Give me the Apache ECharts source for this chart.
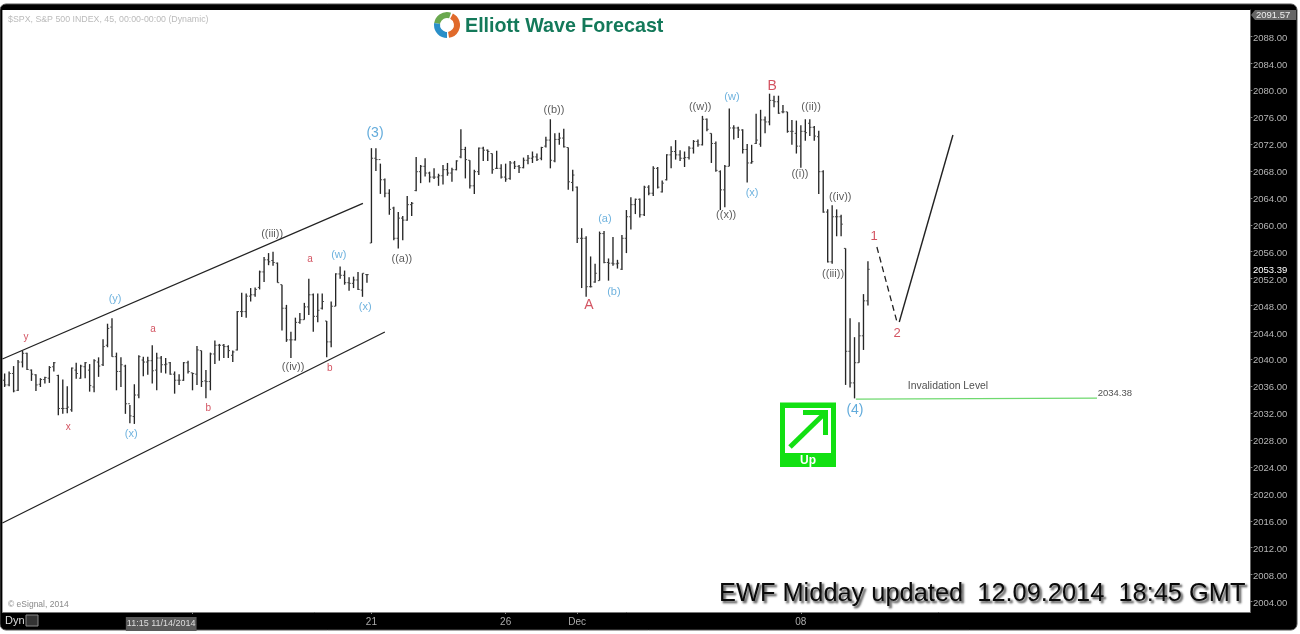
<!DOCTYPE html>
<html><head><meta charset="utf-8">
<style>html,body{margin:0;padding:0;background:#fff;overflow:hidden}#c{width:1300px;height:634px}</style>
<script src="https://cdn.jsdelivr.net/npm/echarts@6/dist/echarts.min.js"></script>
</head><body><div id="c"></div>
<script>
const opens=[2036.9,2036.2,2037.9,2035.4,2039.6,2040.9,2038.4,2037.7,2036.3,2037.0,2037.2,2038.9,2037.6,2032.7,2032.7,2032.5,2038.4,2037.2,2038.9,2038.4,2035.9,2039.6,2039.2,2042.1,2044.8,2040.4,2038.2,2039.0,2033.4,2031.5,2034.7,2039.9,2039.6,2039.8,2038.4,2040.2,2039.2,2039.5,2037.8,2036.9,2036.9,2039.5,2038.0,2037.8,2041.3,2036.8,2036.7,2040.8,2042.1,2042.1,2041.9,2040.6,2041.4,2047.1,2047.1,2049.4,2049.6,2050.7,2053.0,2054.8,2054.7,2054.3,2051.1,2047.6,2042.9,2042.9,2045.5,2045.9,2047.8,2049.6,2046.4,2047.6,2045.7,2042.6,2047.9,2052.7,2052.5,2051.4,2051.3,2051.8,2050.3,2052.6,
2057.3,2069.9,2069.7,2066.7,2064.7,2062.5,2058.0,2061.0,2060.7,2063.0,2065.1,2067.9,2068.7,2067.7,2067.1,2067.1,2067.3,2068.2,2067.7,2068.2,2070.1,2071.2,2069.6,2065.8,2067.9,2071.4,2071.1,2070.6,2068.4,2068.4,2067.1,2066.9,2069.2,2068.7,2068.5,2069.6,2069.9,2070.1,2069.9,2071.7,2072.6,2069.5,2072.7,2072.9,2071.5,2066.3,2065.6,2058.0,2058.0,2050.8,2051.5,2051.7,2058.7,2054.4,2054.3,2054.2,2053.4,2058.0,2061.2,2063.0,2063.8,2061.5,2065.6,2064.7,2068.4,
2064.9,2066.7,2070.4,2070.9,2070.4,2069.9,2070.0,2071.4,2072.4,2071.9,2075.7,2073.6,2072.1,2067.9,2065.2,2068.7,2074.4,2074.4,2074.1,2071.2,2069.2,2072.1,2072.0,2075.6,2075.3,2078.5,2078.3,2076.8,2076.8,2073.9,2073.6,2071.7,2073.9,2075.1,2074.5,2073.1,2067.9,2061.9,2054.5,2061.2,2061.2,
2056.5,2041.2,2036.5,2039.5,2043.5,2048.7];
const highs=[2037.9,2038.2,2039.0,2039.9,2041.3,2041.0,2038.5,2037.8,2037.2,2037.4,2039.0,2039.6,2037.7,2037.0,2036.0,2038.8,2039.5,2039.2,2039.6,2039.3,2040.0,2040.3,2043.0,2045.3,2046.1,2041.0,2040.3,2039.2,2033.2,2036.3,2040.6,2040.4,2040.4,2042.1,2041.0,2040.5,2040.2,2039.6,2038.2,2037.8,2039.6,2039.8,2038.0,2042.0,2041.3,2038.4,2041.0,2042.8,2042.3,2042.3,2042.1,2041.3,2047.2,2049.9,2049.8,2050.6,2050.7,2053.2,2055.2,2055.8,2056.0,2054.4,2051.1,2048.1,2044.1,2046.2,2046.9,2048.4,2052.0,2049.8,2049.8,2049.8,2045.7,2048.6,2052.8,2053.8,2053.2,2052.2,2052.3,2053.0,2052.8,2052.7,
2071.4,2071.4,2069.1,2066.9,2065.3,2062.7,2061.9,2061.3,2064.3,2063.4,2070.1,2068.9,2069.9,2067.9,2068.4,2067.6,2068.9,2069.2,2068.5,2069.6,2074.2,2071.6,2069.6,2068.2,2071.5,2071.6,2071.2,2070.6,2071.0,2069.0,2069.1,2069.5,2069.5,2068.9,2070.0,2070.4,2070.9,2070.6,2071.6,2073.1,2075.7,2073.6,2073.7,2074.3,2071.5,2068.2,2065.7,2059.5,2058.3,2055.3,2054.2,2059.0,2059.1,2055.0,2058.2,2054.8,2058.5,2062.2,2064.1,2063.9,2063.9,2065.8,2065.9,2068.7,2068.6,
2066.6,2070.5,2071.7,2072.6,2071.1,2070.9,2071.7,2072.6,2072.7,2076.2,2075.8,2073.6,2072.4,2068.1,2068.9,2077.3,2074.8,2074.6,2074.2,2072.0,2071.9,2076.5,2077.1,2076.1,2079.5,2079.2,2079.2,2077.8,2076.8,2075.6,2075.5,2074.8,2075.7,2075.7,2074.7,2074.0,2068.1,2062.3,2062.9,2062.3,2061.5,
2056.5,2046.1,2043.3,2045.5,2049.7,2054.6];
const lows=[2035.9,2036.0,2035.1,2035.3,2038.8,2038.4,2036.8,2035.3,2035.9,2036.4,2036.5,2038.2,2031.7,2031.9,2032.0,2032.2,2037.1,2037.1,2037.2,2035.2,2035.1,2037.4,2039.0,2041.8,2040.4,2035.4,2035.9,2031.9,2030.5,2030.4,2034.2,2037.5,2037.7,2036.4,2035.4,2038.0,2037.9,2037.7,2034.9,2036.2,2036.8,2037.9,2035.4,2036.2,2035.9,2034.2,2035.4,2039.3,2039.8,2040.2,2040.2,2039.6,2041.3,2046.3,2046.2,2048.6,2049.3,2050.4,2051.5,2054.0,2053.9,2051.4,2044.3,2042.6,2040.2,2042.8,2045.3,2045.9,2046.6,2044.1,2045.5,2047.4,2040.3,2041.8,2047.9,2052.0,2051.1,2050.2,2050.6,2050.3,2049.3,2051.4,
2057.3,2068.0,2064.6,2064.1,2061.5,2057.7,2056.5,2057.7,2060.6,2061.3,2065.0,2066.2,2067.2,2066.3,2066.8,2065.8,2066.0,2067.3,2066.4,2068.1,2069.9,2066.9,2065.4,2064.6,2067.4,2069.5,2069.5,2067.6,2068.3,2066.9,2066.4,2066.7,2068.3,2067.7,2068.4,2069.0,2069.2,2069.5,2069.6,2071.5,2068.4,2069.3,2071.9,2071.5,2065.2,2065.0,2057.3,2050.6,2049.3,2050.7,2051.4,2051.7,2054.3,2051.7,2053.9,2053.5,2053.3,2055.8,2059.3,2061.6,2061.1,2061.3,2064.4,2064.3,2065.4,
2064.8,2066.6,2068.4,2069.7,2069.5,2068.6,2069.7,2070.6,2071.6,2071.8,2073.9,2069.2,2067.9,2062.2,2062.6,2068.7,2072.7,2072.9,2070.6,2066.3,2069.1,2072.0,2071.6,2073.6,2074.8,2077.5,2076.5,2076.6,2073.7,2071.9,2070.6,2068.5,2072.5,2073.2,2072.5,2064.6,2061.8,2054.4,2054.2,2058.3,2058.3,
2036.2,2035.8,2034.2,2039.5,2041.4,2048.0];
const closes=[2036.2,2037.9,2035.3,2039.6,2040.9,2038.5,2037.8,2036.2,2037.0,2037.3,2038.8,2039.5,2032.7,2032.7,2032.9,2038.7,2037.9,2039.0,2039.5,2036.1,2039.8,2039.0,2041.9,2044.6,2040.4,2038.2,2039.2,2033.4,2031.6,2034.7,2040.4,2039.6,2039.8,2038.3,2040.2,2039.2,2039.3,2037.8,2036.9,2036.9,2039.5,2038.2,2037.9,2041.4,2036.7,2036.7,2040.8,2042.1,2042.1,2041.9,2041.3,2041.1,2047.1,2047.1,2049.4,2049.6,2050.4,2053.0,2054.8,2054.5,2054.4,2051.4,2047.6,2042.9,2042.9,2045.5,2045.9,2047.8,2049.6,2046.4,2047.3,2048.6,2042.6,2047.9,2052.7,2052.5,2051.4,2051.3,2051.8,2050.4,2052.8,2052.6,
2069.9,2069.7,2066.7,2064.7,2062.3,2058.0,2061.0,2060.7,2063.0,2063.2,2067.9,2068.7,2067.7,2067.1,2067.1,2067.3,2068.2,2067.7,2068.2,2069.5,2071.2,2069.7,2065.8,2067.9,2071.4,2071.1,2070.9,2068.2,2068.4,2067.1,2066.8,2069.2,2068.7,2068.5,2069.6,2069.9,2070.1,2069.7,2071.5,2072.6,2069.6,2072.7,2072.9,2071.6,2066.4,2067.4,2058.0,2058.0,2050.8,2050.8,2052.8,2058.7,2054.4,2054.3,2054.2,2054.3,2058.0,2061.2,2063.0,2063.8,2061.5,2065.6,2064.7,2068.4,2065.6,
2066.2,2070.4,2070.9,2070.4,2069.9,2070.0,2071.4,2072.4,2071.9,2075.7,2074.2,2072.1,2068.1,2065.2,2068.7,2074.4,2074.4,2074.1,2071.2,2069.2,2069.4,2072.6,2075.6,2075.3,2078.5,2078.3,2076.6,2076.8,2073.9,2073.9,2071.7,2073.9,2073.7,2074.5,2073.2,2067.9,2061.9,2054.5,2061.2,2061.2,2060.1,
2041.2,2036.5,2039.5,2043.5,2048.7,2053.39];

const priceTicks=[2004,2008,2012,2016,2020,2024,2028,2032,2036,2040,2044,2048,2052,2053.39,2056,2060,2064,2068,2072,2076,2080,2084,2088];
const lastPrice=2053.39;
const topPrice='2091.57';
const dateTickBars=[42,82,112,128,178];
const dateLabelBars=[35,82,112,128,178];
const dateLabels=['11:15 11/14/2014','21','26','Dec','08'];

const channelUpper=[[-0.5,2040.05],[80.1,2063.2]];
const channelLower=[[-0.5,2015.67],[85.0,2044.07]];
const forecastDashed=[[195.0,2056.7],[199.5,2045.55]];
const forecastSolid=[[200.0,2045.55],[212.0,2073.35]];
const invalidation=[[190.3,2034.1],[244.2,2034.25]];

const blueSmall=[[24.7,2049.0,'(y)'],[28.3,2028.9,'(x)'],[74.7,2055.5,'(w)'],[80.6,2047.8,'(x)'],[134.2,2060.9,'(a)'],[136.2,2050.0,'(b)'],[162.6,2079.0,'(w)'],[167.1,2064.7,'(x)']];
const blueLarge=[[82.8,2073.6,'(3)'],[190.1,2032.5,'(4)']];
const redSmall=[[4.8,2043.3,'y'],[14.2,2029.9,'x'],[33.2,2044.5,'a'],[45.5,2032.8,'b'],[68.3,2054.9,'a'],[72.7,2038.7,'b']];
const redMid=[[194.4,2058.3,'1'],[199.5,2043.8,'2']];
const redLarge=[[130.6,2048.1,'A'],[171.6,2080.6,'B']];
const darkLabels=[[59.8,2058.6,'((iii))'],[64.5,2038.9,'((iv))'],[88.8,2054.9,'((a))'],[122.8,2077.1,'((b))'],[155.5,2077.5,'((w))'],[180.3,2077.5,'((ii))'],[177.8,2067.6,'((i))'],[186.8,2064.1,'((iv))'],[185.2,2052.7,'((iii))'],[161.3,2061.5,'((x))']];
const notes=[[210.9,2036.0,'Invalidation Level']];
const lowNote=[[248.2,2035.0,'2034.38']];

const bars=opens.map((o,i)=>[i,o,highs[i],lows[i],closes[i]]);
const FONT='"Liberation Sans",Arial,sans-serif';

function labelSeries(data,color,size,weight){
  return {type:'scatter',data:data,symbolSize:0,silent:true,z:6,
    itemStyle:{color:'transparent'},
    label:{show:true,position:'inside',formatter:p=>p.data[2],color:color,fontSize:size,fontFamily:FONT,fontWeight:weight||'normal'}};
}
function lineSeries(data,color,width,type){
  return {type:'line',data:data,symbol:'none',silent:true,z:5,clip:true,
    lineStyle:{color:color,width:width,type:type||'solid'}};
}

const chart=echarts.init(document.getElementById('c'),null,{renderer:'canvas'});
chart.setOption({
  animation:false,
  backgroundColor:'#fff',
  tooltip:{show:false},
  grid:{left:2.4,right:49.6,top:10,bottom:22,show:true,backgroundColor:'#fff',borderWidth:0,z:2},
  xAxis:{type:'value',min:-0.5,max:278.5,position:'bottom',splitLine:{show:false},z:4,
    axisLine:{show:true,onZero:false,lineStyle:{color:'#777',width:1}},
    axisTick:{show:true,length:2,inside:false,customValues:dateTickBars,lineStyle:{color:'#888'}},
    axisLabel:{show:true,customValues:dateLabelBars,margin:5,color:'#aaa',fontSize:10,fontFamily:FONT,
      formatter:v=>{const i=dateLabelBars.indexOf(v);return i===0?'{b|'+dateLabels[0]+'}':(i>0?dateLabels[i]:'');},
      rich:{b:{backgroundColor:'#5a5a5a',color:'#ddd',fontSize:9,fontFamily:FONT,padding:[2,1,3,1]}}}},
  yAxis:{type:'value',position:'right',min:2002.44,max:2091.94,splitLine:{show:false},z:4,
    axisLine:{show:true,onZero:false,lineStyle:{color:'#666',width:1}},
    axisTick:{show:true,length:2,customValues:priceTicks.filter(v=>v!==lastPrice),lineStyle:{color:'#888'}},
    axisLabel:{show:true,customValues:priceTicks,margin:2.5,color:'#b5b5b5',fontSize:9.5,fontFamily:FONT,padding:[3,0,0,0],
      formatter:v=>v===lastPrice?'{l|'+v.toFixed(2)+'}':v.toFixed(2),
      rich:{l:{color:'#fff',fontSize:9.5,fontFamily:FONT}}}},
  series:[
    {type:'custom',data:bars,clip:true,z:3,silent:true,encode:{x:0,y:[1,2,3,4]},
      renderItem:function(params,api){
        const i=api.value(0);
        const o=api.coord([i,api.value(1)]),h=api.coord([i,api.value(2)]),
              l=api.coord([i,api.value(3)]),c=api.coord([i,api.value(4)]);
        const x=h[0];
        return {type:'group',children:[
          {type:'line',shape:{x1:x,y1:h[1],x2:x,y2:l[1]},style:{stroke:'#262626',lineWidth:1.35,fill:null}},
          {type:'line',shape:{x1:x-1.7,y1:o[1],x2:x,y2:o[1]},style:{stroke:'#444',lineWidth:1,fill:null}},
          {type:'line',shape:{x1:x,y1:c[1],x2:x+1.7,y2:c[1]},style:{stroke:'#444',lineWidth:1,fill:null}}
        ]};
      }},
    lineSeries(channelUpper,'#222',1.3),
    lineSeries(channelLower,'#222',1.3),
    lineSeries(forecastDashed,'#222',1.3,[6,4]),
    lineSeries(forecastSolid,'#222',1.4),
    lineSeries(invalidation,'#6fd96f',1.3),
    labelSeries(blueSmall,'#4a9fd6',11),
    labelSeries(blueLarge,'#3b96d2',14),
    labelSeries(redSmall,'#c8283a',10),
    labelSeries(redMid,'#c8283a',13),
    labelSeries(redLarge,'#c8283a',14),
    labelSeries(darkLabels,'#333',11),
    labelSeries(notes,'#222',10.4),
    labelSeries(lowNote,'#222',9.5)
  ],
  graphic:{elements:[
    {type:'rect',silent:true,z:-9,shape:{x:0,y:4,width:1297,height:626,r:6},style:{fill:'#000',stroke:'#555',lineWidth:1}},
    {type:'polygon',silent:true,z:20,shape:{points:[[1251,15],[1255,10],[1296,10],[1296,20],[1255,20]]},style:{fill:'#666'}},
    {type:'text',silent:true,z:21,style:{x:1256,y:15,text:topPrice,fill:'#eee',font:'9.5px '+FONT,verticalAlign:'middle'}},
    {type:'text',silent:true,z:20,style:{x:8,y:20,text:'$SPX, S&P 500 INDEX, 45, 00:00-00:00 (Dynamic)',fill:'#bbb',font:'8.8px '+FONT,verticalAlign:'middle'}},
    {type:'text',silent:true,z:20,style:{x:8,y:605,text:'© eSignal, 2014',fill:'#888',font:'8.5px '+FONT,verticalAlign:'middle'}},
    {type:'text',silent:true,z:20,style:{x:5,y:621,text:'Dyn',fill:'#ddd',font:'11px '+FONT,verticalAlign:'middle'}},
    {type:'rect',silent:true,z:20,shape:{x:26,y:615,width:12,height:11},style:{fill:'#333',stroke:'#888',lineWidth:1}},
    {type:'sector',silent:true,z:20,shape:{cx:447,cy:25,r:13,r0:7,startAngle:Math.PI*1.05,endAngle:Math.PI*1.6},style:{fill:'#6aa84f'}},
    {type:'sector',silent:true,z:20,shape:{cx:447,cy:25,r:13,r0:7,startAngle:Math.PI*0.5,endAngle:Math.PI*1.05},style:{fill:'#2a8fc8'}},
    {type:'sector',silent:true,z:20,shape:{cx:447,cy:25,r:13,r0:7,startAngle:-Math.PI*0.35,endAngle:Math.PI*0.45},style:{fill:'#e06a2b'}},
    {type:'text',silent:true,z:20,style:{x:465,y:26.5,text:'Elliott Wave Forecast',fill:'#14795a',font:'bold 19.7px '+FONT,verticalAlign:'middle'}},
    {type:'rect',silent:true,z:20,shape:{x:780,y:402.5,width:56,height:64.5},style:{fill:'#12e012'}},
    {type:'rect',silent:true,z:21,shape:{x:785,y:408,width:46,height:45},style:{fill:'#fff'}},
    {type:'line',silent:true,z:22,shape:{x1:790,y1:447,x2:824,y2:414},style:{stroke:'#12e012',lineWidth:5}},
    {type:'polyline',silent:true,z:22,shape:{points:[[803,412.5],[825.5,412.5],[825.5,435]]},style:{stroke:'#12e012',lineWidth:5,fill:null}},
    {type:'text',silent:true,z:22,style:{x:808,y:461,text:'Up',fill:'#fff',font:'bold 12px '+FONT,align:'center',verticalAlign:'middle'}},
    {type:'text',silent:true,z:20,style:{x:719,y:594,text:'EWF Midday updated  12.09.2014  18:45 GMT',fill:'#0a0a0a',stroke:'#fff',lineWidth:0.6,font:'25.4px '+FONT,verticalAlign:'middle',
      textShadowColor:'#666',textShadowBlur:2,textShadowOffsetX:2,textShadowOffsetY:2}}
  ]}
});
</script></body></html>
